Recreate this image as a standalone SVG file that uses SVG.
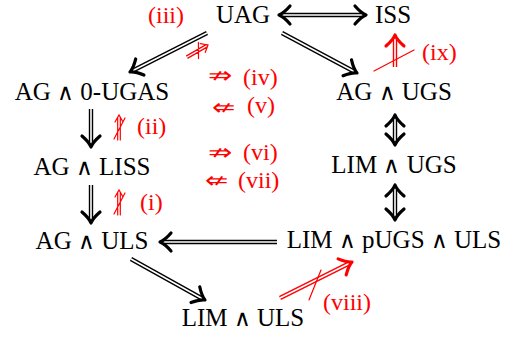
<svg xmlns="http://www.w3.org/2000/svg" width="515" height="337" viewBox="0 0 515 337">
<defs>
<style>
.n{font-family:"Liberation Serif","Times New Roman",serif;font-size:25px;fill:#000;text-anchor:middle}
.w{font-family:"DejaVu Sans",sans-serif;font-weight:200;font-size:23px}
.r{font-family:"Liberation Serif","Times New Roman",serif;font-size:24px;fill:#ff0000}
.sym{font-family:"DejaVu Sans",sans-serif;font-size:23px;fill:#ff0000;font-weight:200}
.so{stroke:#000;stroke-width:4.4;fill:none}
.si{stroke:#fff;stroke-width:1.6;fill:none}
.ro{stroke:#ff0000;stroke-width:4.4;fill:none}
.hd{stroke:#000;stroke-width:3.2;fill:none;stroke-linecap:round;stroke-linejoin:round}
.rh{stroke:#ff0000;stroke-width:3.2;fill:none;stroke-linecap:round;stroke-linejoin:round}
.thin{stroke:#ff0000;stroke-width:1.2;fill:none;stroke-linecap:round}
</style>
<path id="h" d="M-11,-9 Q-5,-2 0,0 Q-5,2 -11,9"/>
</defs>
<g id="nodes">
<g id="UAG"><text class="n" x="243" y="23">UAG</text></g>
<g id="ISS"><text class="n" x="393" y="23">ISS</text></g>
<g id="AG0UGAS"><text class="n" x="92" y="100">AG <tspan class="w">∧</tspan> 0-UGAS</text></g>
<g id="AGUGS"><text class="n" x="394" y="100">AG <tspan class="w">∧</tspan> UGS</text></g>
<g id="AGLISS"><text class="n" x="92" y="175">AG <tspan class="w">∧</tspan> LISS</text></g>
<g id="LIMUGS"><text class="n" x="394" y="173">LIM <tspan class="w">∧</tspan> UGS</text></g>
<g id="AGULS"><text class="n" x="92" y="249">AG <tspan class="w">∧</tspan> ULS</text></g>
<g id="LIMpUGSULS"><text class="n" x="394" y="248">LIM <tspan class="w">∧</tspan> pUGS <tspan class="w">∧</tspan> ULS</text></g>
<g id="LIMULS"><text class="n" x="243" y="326">LIM <tspan class="w">∧</tspan> ULS</text></g>
</g>
<g id="connectors">
<path class="so" d="M282,15 H363"/><path class="si" d="M282,15 H363"/>
<use href="#h" class="hd" transform="translate(366,15)"/>
<use href="#h" class="hd" transform="translate(279,15) rotate(180)"/>
<path class="so" d="M207,33 L133,70.5"/><path class="si" d="M207,33 L133,70.5"/>
<use href="#h" class="hd" transform="translate(130,72) rotate(153)"/>
<path class="so" d="M282,33 L354,71.5"/><path class="si" d="M282,33 L354,71.5"/>
<use href="#h" class="hd" transform="translate(357,73) rotate(28)"/>
<path class="so" d="M91,109 V144"/><path class="si" d="M91,109 V144"/>
<use href="#h" class="hd" transform="translate(91,147) rotate(90)"/>
<path class="so" d="M91,185 V220"/><path class="si" d="M91,185 V220"/>
<use href="#h" class="hd" transform="translate(91,223) rotate(90)"/>
<path class="so" d="M395,118 V142"/><path class="si" d="M395,118 V142"/>
<use href="#h" class="hd" transform="translate(395,115) rotate(-90)"/>
<use href="#h" class="hd" transform="translate(395,145) rotate(90)"/>
<path class="so" d="M395,188 V217"/><path class="si" d="M395,188 V217"/>
<use href="#h" class="hd" transform="translate(395,185) rotate(-90)"/>
<use href="#h" class="hd" transform="translate(395,220) rotate(90)"/>
<path class="so" d="M277,242 H163"/><path class="si" d="M277,242 H163"/>
<use href="#h" class="hd" transform="translate(160,242) rotate(180)"/>
<path class="so" d="M131,259 L202,298.5"/><path class="si" d="M131,259 L202,298.5"/>
<use href="#h" class="hd" transform="translate(205,300) rotate(29)"/>
<path class="ro" d="M280,298 L349,263.5"/><path class="si" d="M280,298 L349,263.5"/>
<use href="#h" class="rh" transform="translate(352,262) rotate(-26.6)"/>
<path class="thin" d="M321,270 L309,300"/>
<path class="ro" d="M395,67 V38"/><path class="si" d="M395,67 V38"/>
<use href="#h" class="rh" transform="translate(395,35) rotate(-90)"/>
<path class="thin" d="M374,71 L414,50"/>
<g id="x3" transform="translate(208,45) rotate(-30)">
<path class="thin" d="M-24,-1.3 H-2 M-24,1.3 H-2 M-6,-5 L0,0 L-6,5 M-15,7 L-7,-7"/>
</g>
<g id="x2">
<path class="thin" d="M117.7,117 V140 M120.3,117 V140 M115,122 L119,115 L123,122 M114,139 L125,118"/>
</g>
<g id="x1">
<path class="thin" d="M117.7,192 V215 M120.3,192 V215 M115,197 L119,190 L123,197 M114,214 L125,193"/>
</g>
</g>
<g id="labels">
<text class="r" x="148" y="23">(iii)</text>
<text class="r" x="137" y="134">(ii)</text>
<text class="r" x="140" y="210">(i)</text>
<text class="r" x="422" y="60">(ix)</text>
<text class="r" x="323" y="310">(viii)</text>
<text class="sym" x="208" y="83" textLength="24" lengthAdjust="spacingAndGlyphs">⇏</text>
<text class="r" x="243" y="85">(iv)</text>
<text class="sym" x="212" y="115" textLength="23" lengthAdjust="spacingAndGlyphs">⇍</text>
<text class="r" x="247" y="113">(v)</text>
<text class="sym" x="208" y="160" textLength="24" lengthAdjust="spacingAndGlyphs">⇏</text>
<text class="r" x="243" y="160">(vi)</text>
<text class="sym" x="205" y="188" textLength="23" lengthAdjust="spacingAndGlyphs">⇍</text>
<text class="r" x="238" y="188">(vii)</text>
</g>
</svg>
